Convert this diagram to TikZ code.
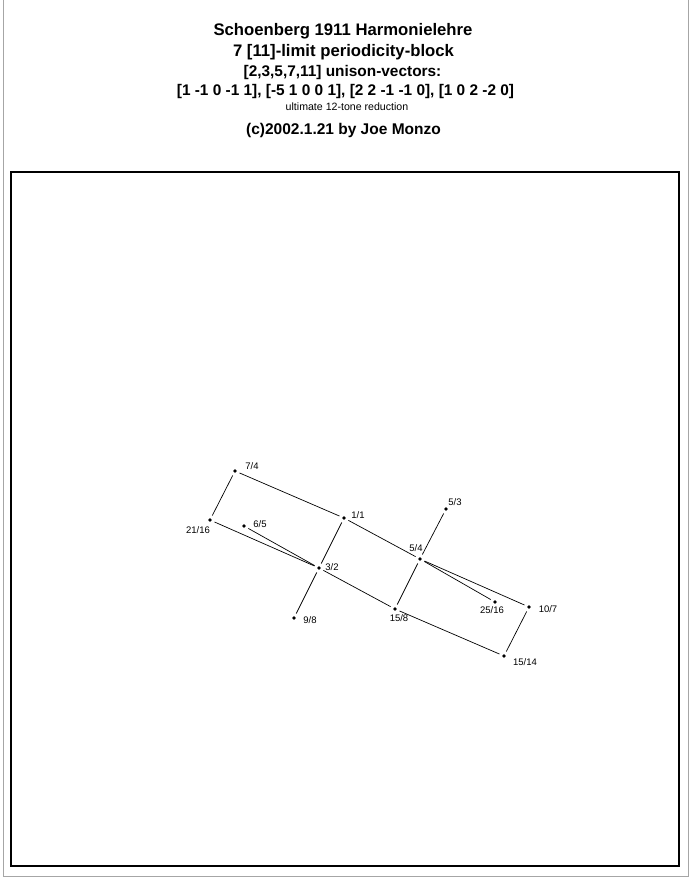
\documentclass[tikz,border=0pt]{standalone}
\usepackage{fontspec}
\setmainfont{Liberation Sans}
\begin{document}
\begin{tikzpicture}[x=1pt,y=-1pt,
  ttl/.style={anchor=base,inner sep=0pt,font=\bfseries\fontsize{#1}{#1}\selectfont},
  pt/.style={circle,fill=black,inner sep=0pt,minimum size=3.6pt},
  lbl/.style={inner sep=0pt,font=\fontsize{9.5}{9.5}\selectfont},
  edge/.style={line width=0.7pt,shorten >=3pt,shorten <=3pt}]
\useasboundingbox (0,0) rectangle (693,880);
% page frame
\draw[gray!70,line width=0.6pt] (3,0) -- (3,876) -- (688,876) -- (688,0);
% inner box
\draw[line width=1.4pt] (11,172) rectangle (679,866);
% titles
\node[ttl=16.7] (t1) at (343,36) {Schoenberg 1911 Harmonielehre};
\node[ttl=16.7] (t2) at (343.5,57) {7 [11]-limit periodicity-block};
\node[ttl=15.4] (t3) at (342.5,77) {[2,3,5,7,11] unison-vectors:};
\node[ttl=15.4] (t4) at (345.5,96) {[1 -1 0 -1 1], [-5 1 0 0 1], [2 2 -1 -1 0], [1 0 2 -2 0]};
\node[anchor=base,inner sep=0pt,font=\fontsize{10.6}{10.6}\selectfont] (t5) at (347,111) {ultimate 12-tone reduction};
\node[ttl=15.5] (t6) at (343.5,135) {(c)2002.1.21 by Joe Monzo};
% points
\node[pt] (a74) at (235,471) {};
\node[pt] (a2116) at (210,520) {};
\node[pt] (a65) at (244,526) {};
\node[pt] (a11) at (344,518) {};
\node[pt] (a32) at (319,568) {};
\node[pt] (a98) at (294,618) {};
\node[pt] (a53) at (446,509) {};
\node[pt] (a54) at (420,559) {};
\node[pt] (a158) at (395,609) {};
\node[pt] (a2516) at (495,602) {};
\node[pt] (a107) at (529,607) {};
\node[pt] (a1514) at (504,656) {};
% labels
\node[lbl] (l74) at (252,466) {7/4};
\node[lbl] (l2116) at (198,530) {21/16};
\node[lbl] (l65) at (260,524) {6/5};
\node[lbl] (l11) at (358,515) {1/1};
\node[lbl] (l32) at (332,567) {3/2};
\node[lbl] (l98) at (310,620) {9/8};
\node[lbl] (l53) at (455,502) {5/3};
\node[lbl] (l54) at (416,548) {5/4};
\node[lbl] (l158) at (399,618) {15/8};
\node[lbl] (l2516) at (492,610) {25/16};
\node[lbl] (l107) at (548,609) {10/7};
\node[lbl] (l1514) at (525,662) {15/14};
% edges
\draw[edge] (a74) -- (a2116);
\draw[edge] (a74) -- (a11);
\draw[edge] (a11) -- (a32);
\draw[edge] (a11) -- (a54);
\draw[edge] (a2116) -- (a32);
\draw[edge] (a65) -- (a32);
\draw[edge] (a32) -- (a98);
\draw[edge] (a32) -- (a158);
\draw[edge] (a54) -- (a53);
\draw[edge] (a54) -- (a158);
\draw[edge] (a54) -- (a2516);
\draw[edge] (a54) -- (a107);
\draw[edge] (a107) -- (a1514);
\draw[edge] (a158) -- (a1514);
\end{tikzpicture}
\end{document}
